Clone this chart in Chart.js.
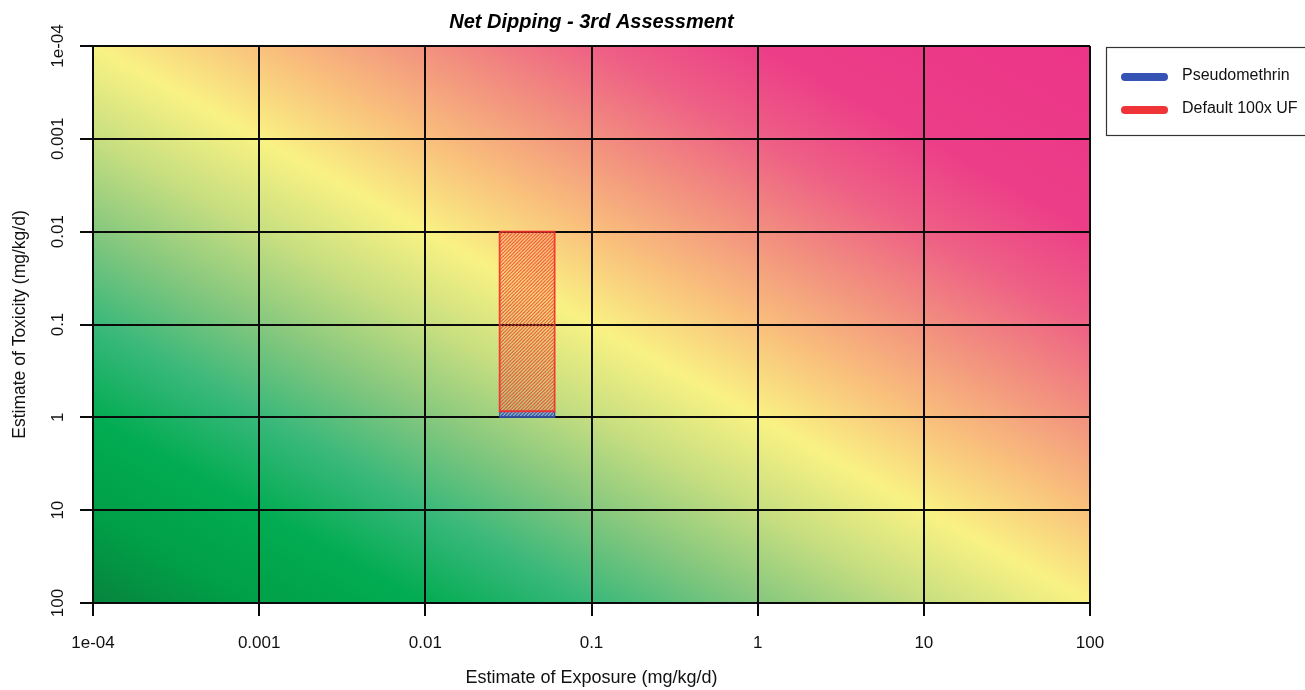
<!DOCTYPE html>
<html>
<head>
<meta charset="utf-8">
<script src="https://cdn.jsdelivr.net/npm/chart.js@4/dist/chart.umd.min.js"></script>
<style>
  html, body { margin: 0; padding: 0; background: #ffffff; }
  #c { display: block; }
</style>
</head>
<body>
<canvas id="c" width="1305" height="690"></canvas>
<script>
// ---- chart data ----
const chartTitle = 'Net Dipping - 3rd Assessment';
const xAxisTitle = 'Estimate of Exposure (mg/kg/d)';
const yAxisTitle = 'Estimate of Toxicity (mg/kg/d)';
const tickValues = [1e-4, 1e-3, 1e-2, 1e-1, 1, 10, 100];
const tickLabels = ['1e-04', '0.001', '0.01', '0.1', '1', '10', '100'];
const seriesNames = ['Pseudomethrin', 'Default 100x UF'];
// exposure [low, high] per series
const exposureLow = [0.028, 0.028];
const exposureHigh = [0.06, 0.06];
// toxicity [low, high] per series
const toxicityLow = [0.86, 0.01];
const toxicityHigh = [1, 0.86];

// ---- styling ----
const FONT = "'Liberation Sans', Arial, Helvetica, sans-serif";
const seriesColors = ['#3553b4', '#ee3436'];
const gridColor = '#0a0a0a';

function hatch(stroke, tint, width) {
  const s = 7;
  const c = document.createElement('canvas');
  c.width = s; c.height = s;
  const g = c.getContext('2d');
  g.fillStyle = tint;
  g.fillRect(0, 0, s, s);
  g.strokeStyle = stroke;
  g.lineWidth = width;
  for (const k of [-s, -s / 2, 0, s / 2, s]) {
    g.beginPath();
    g.moveTo(k, s);
    g.lineTo(k + s, 0);
    g.stroke();
  }
  return g.createPattern(c, 'repeat');
}

const fills = [
  hatch('rgba(45,75,190,0.9)', 'rgba(120,150,230,0.45)', 1.3),
  hatch('rgba(242,52,44,0.72)', 'rgba(242,80,60,0.14)', 1.2)
];
const borders = ['rgba(53,83,180,0.95)', 'rgba(242,45,45,0.9)'];

// closed rectangle outline for each range box
function box(i) {
  return [
    { x: exposureLow[i], y: toxicityLow[i] },
    { x: exposureHigh[i], y: toxicityLow[i] },
    { x: exposureHigh[i], y: toxicityHigh[i] },
    { x: exposureLow[i], y: toxicityHigh[i] },
    { x: exposureLow[i], y: toxicityLow[i] }
  ];
}

const datasets = seriesNames.map((name, i) => ({
  label: name,
  data: box(i),
  showLine: true,
  fill: 'shape',
  backgroundColor: fills[i],
  borderColor: borders[i],
  borderWidth: i === 0 ? 1 : 1.8,
  pointRadius: 0,
  tension: 0,
  order: i === 0 ? 1 : 0
}));

// risk background: colour runs with log(exposure) - log(toxicity)
const riskStops = [
  [-6, '#07843e'], [-5, '#00a048'], [-4, '#02ac52'], [-3, '#38b87a'],
  [-2, '#84c77e'], [-1, '#c6de80'], [0, '#f9f283'], [1, '#f9c07c'],
  [2, '#f2907f'], [3, '#ee6085'], [4, '#ec3e88'], [6, '#ec3487']
];

const riskBackground = {
  id: 'riskBackground',
  beforeDraw(chart) {
    const { ctx, chartArea: a, scales: { x, y } } = chart;
    const x0 = x.getPixelForValue(1e-4), y0 = y.getPixelForValue(1e-4);
    const ax = x.getPixelForValue(1e-3) - x0;
    const ay = y.getPixelForValue(1e-3) - y0;
    const gx = 1 / ax, gy = -1 / ay;
    const n2 = gx * gx + gy * gy;
    const P = r => [x0 + r * gx / n2, y0 + r * gy / n2];
    const p0 = P(-6), p1 = P(6);
    const grad = ctx.createLinearGradient(p0[0], p0[1], p1[0], p1[1]);
    riskStops.forEach(([r, col]) => grad.addColorStop((r + 6) / 12, col));
    ctx.save();
    ctx.fillStyle = grad;
    ctx.fillRect(a.left, a.top, a.right - a.left, a.bottom - a.top);
    ctx.restore();
  }
};

// title centred over the plotting region
const plotTitle = {
  id: 'plotTitle',
  afterDraw(chart) {
    const { ctx, chartArea: a } = chart;
    ctx.save();
    ctx.font = 'italic bold 20px ' + FONT;
    ctx.fillStyle = '#000';
    ctx.textAlign = 'center';
    ctx.textBaseline = 'middle';
    ctx.fillText(chartTitle, (a.left + a.right) / 2, 22);
    ctx.restore();
  }
};

// vertical tick labels on the toxicity axis
const yTickText = {
  id: 'yTickText',
  afterDraw(chart) {
    const { ctx, scales: { y } } = chart;
    ctx.save();
    ctx.font = '17px ' + FONT;
    ctx.fillStyle = '#111';
    ctx.textAlign = 'center';
    ctx.textBaseline = 'middle';
    tickValues.forEach((v, i) => {
      ctx.save();
      ctx.translate(58, y.getPixelForValue(v));
      ctx.rotate(-Math.PI / 2);
      ctx.fillText(tickLabels[i], 0, 0);
      ctx.restore();
    });
    ctx.restore();
  }
};

// boxed legend at the right
const sideLegend = {
  id: 'sideLegend',
  afterDraw(chart) {
    const { ctx } = chart;
    ctx.save();
    ctx.strokeStyle = '#333';
    ctx.lineWidth = 1.2;
    ctx.strokeRect(1106.5, 47.5, 260, 88);
    ctx.font = '16px ' + FONT;
    ctx.textAlign = 'left';
    ctx.textBaseline = 'middle';
    seriesNames.forEach((name, i) => {
      const yy = 77 + i * 33;
      ctx.strokeStyle = seriesColors[i];
      ctx.lineWidth = 8;
      ctx.lineCap = 'round';
      ctx.beginPath();
      ctx.moveTo(1125, yy);
      ctx.lineTo(1164, yy);
      ctx.stroke();
      ctx.fillStyle = '#111';
      ctx.fillText(name, 1182, yy - 1);
    });
    ctx.restore();
  }
};

const decadeTicks = s => { s.ticks = tickValues.map(v => ({ value: v })); };
const labelFor = v => {
  const i = tickValues.findIndex(t => Math.abs(Math.log10(t) - Math.log10(v)) < 1e-9);
  return i >= 0 ? tickLabels[i] : '';
};

new Chart(document.getElementById('c'), {
  type: 'scatter',
  data: { datasets },
  options: {
    responsive: false,
    animation: false,
    layout: { padding: { left: 0, right: 215, top: 46, bottom: 0 } },
    plugins: {
      legend: { display: false },
      tooltip: { enabled: false },
      title: { display: false }
    },
    scales: {
      x: {
        type: 'logarithmic',
        min: 1e-4,
        max: 100,
        afterBuildTicks: decadeTicks,
        afterFit: s => { s.height = 87; },
        grid: { color: gridColor, lineWidth: 2, tickLength: 13, drawTicks: true },
        border: { color: gridColor, width: 2 },
        ticks: {
          autoSkip: false, maxRotation: 0, minRotation: 0, padding: 17,
          color: '#111', font: { family: FONT, size: 17 },
          callback: v => labelFor(v)
        },
        title: {
          display: true, text: xAxisTitle, color: '#111',
          font: { family: FONT, size: 18, lineHeight: 1.2 },
          padding: { top: 0, bottom: 1 }
        }
      },
      y: {
        type: 'logarithmic',
        reverse: true,
        min: 1e-4,
        max: 100,
        afterBuildTicks: decadeTicks,
        afterFit: s => { s.width = 93; },
        grid: { color: gridColor, lineWidth: 2, tickLength: 13, drawTicks: true },
        border: { color: gridColor, width: 2 },
        ticks: { display: false },
        title: {
          display: true, text: yAxisTitle, color: '#111',
          font: { family: FONT, size: 17.5, lineHeight: 1.2 },
          padding: { top: 10, bottom: 0 }
        }
      }
    }
  },
  plugins: [riskBackground, plotTitle, yTickText, sideLegend]
});
</script>
</body>
</html>
